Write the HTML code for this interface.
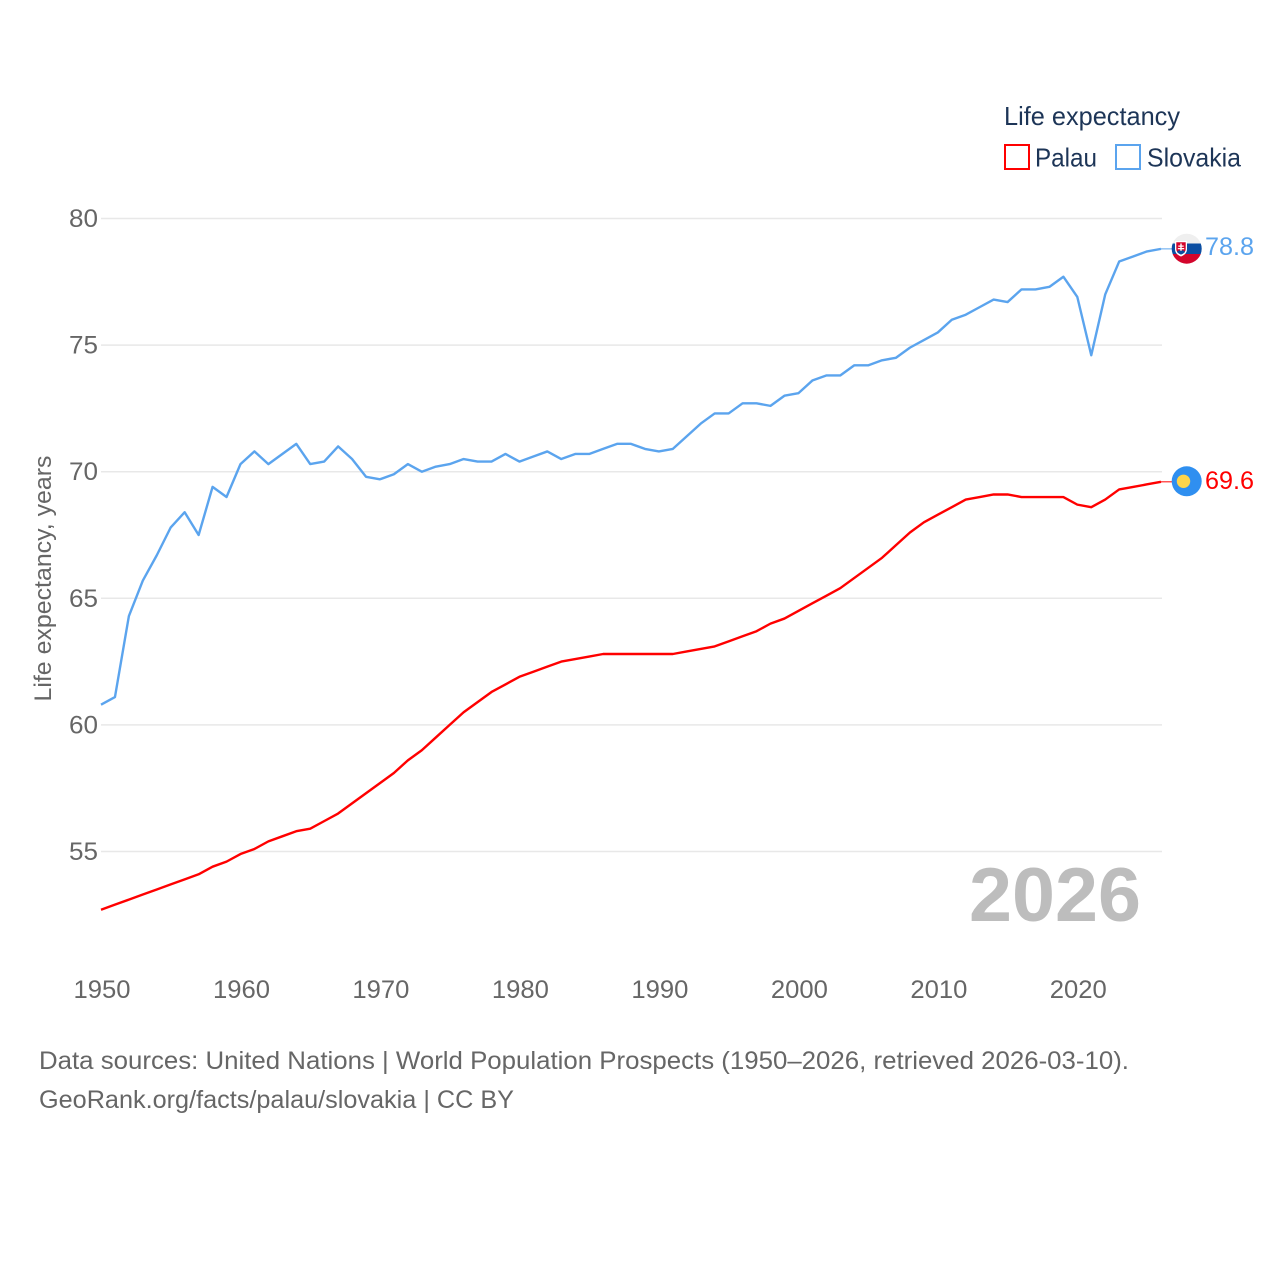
<!DOCTYPE html>
<html>
<head>
<meta charset="utf-8">
<style>
html,body{margin:0;padding:0;background:#fff;width:1280px;height:1280px;overflow:hidden}
svg{display:block}
text{font-family:"Liberation Sans",sans-serif}
</style>
</head>
<body>
<svg id="chart" width="1280" height="1280" viewBox="0 0 1280 1280" xmlns="http://www.w3.org/2000/svg">
  <g id="grid"></g>
  <g id="yticks"></g>
  <g id="xticks"></g>
  <text transform="translate(51,578.5) rotate(-90)" text-anchor="middle" font-size="24" fill="#666" textLength="246" lengthAdjust="spacingAndGlyphs">Life expectancy, years</text>
  <text x="969" y="921" font-size="76" font-weight="bold" fill="#bdbdbd" textLength="172" lengthAdjust="spacingAndGlyphs">2026</text>
  <g id="series"></g>
  <g id="endpoints"></g>

  <g>
    <circle cx="1186.700" cy="481.300" r="15" fill="#2f8ff0"/>
    <circle cx="1183.500" cy="481.300" r="6.700" fill="#ffd54a"/>
  </g>
  <g>
    <clipPath id="skclip"><circle cx="1186.700" cy="248.700" r="15"/></clipPath>
    <g clip-path="url(#skclip)">
      <rect x="1171" y="233" width="31" height="10.500" fill="#efefef"/>
      <rect x="1171" y="243.500" width="31" height="10.500" fill="#0b4ea2"/>
      <rect x="1171" y="254" width="31" height="11" fill="#d3052c"/>
      <path d="M1175 241h12v8c0 4-2.500 6-6 7.500-3.500-1.500-6-3.500-6-7.500z" fill="#fff"/>
      <path d="M1176.300 242.300h9.400v6.700c0 3-2.300 4.500-4.700 5.500-2.400-1-4.700-2.500-4.700-5.500z" fill="#d3052c"/>
      <path d="M1180.300 243.500h1.400v2h2v1.200h-2v1.300h2.500v1.200h-2.500v2.300h-1.400v-2.300h-2.500v-1.200h2.500v-1.300h-2v-1.200h2z" fill="#fff"/>
      <path d="M1177 252c1.500-2 2.500-2 4-1 1.500-1 2.500-1 4 1-1.500 1.500-2.500 2-4 2.500-1.500-.5-2.500-1-4-2.500z" fill="#0b4ea2"/>
    </g>
  </g>

  <g>
    <text x="1004" y="125" font-size="26" fill="#1d3557" textLength="176" lengthAdjust="spacingAndGlyphs">Life expectancy</text>
    <g>
      <rect x="1005" y="145" width="24" height="24" fill="#fff" stroke="#ff0000" stroke-width="2"/>
      <text x="1035" y="166.500" font-size="26" fill="#1d3557" textLength="62" lengthAdjust="spacingAndGlyphs">Palau</text>
    </g>
    <g>
      <rect x="1116" y="145" width="24" height="24" fill="#fff" stroke="#5ba4ee" stroke-width="2"/>
      <text x="1147" y="166.500" font-size="26" fill="#1d3557" textLength="94" lengthAdjust="spacingAndGlyphs">Slovakia</text>
    </g>
  </g>

  <text x="39" y="1069" font-size="25" fill="#666" textLength="1090" lengthAdjust="spacingAndGlyphs">Data sources: United Nations | World Population Prospects (1950–2026, retrieved 2026-03-10).</text>
  <text x="39" y="1108" font-size="25" fill="#666" textLength="475" lengthAdjust="spacingAndGlyphs">GeoRank.org/facts/palau/slovakia | CC BY</text>
</svg>
<script>
const startYear = 1950;
const yTickValues = [80, 75, 70, 65, 60, 55];
const xTickValues = [1950, 1960, 1970, 1980, 1990, 2000, 2010, 2020];
const palauValues = [52.7,52.9,53.1,53.3,53.5,53.7,53.9,54.1,54.4,54.6,54.9,55.1,55.4,55.6,55.8,55.9,56.2,56.5,56.9,57.3,57.7,58.1,58.6,59.0,59.5,60.0,60.5,60.9,61.3,61.6,61.9,62.1,62.3,62.5,62.6,62.7,62.8,62.8,62.8,62.8,62.8,62.8,62.9,63.0,63.1,63.3,63.5,63.7,64.0,64.2,64.5,64.8,65.1,65.4,65.8,66.2,66.6,67.1,67.6,68.0,68.3,68.6,68.9,69.0,69.1,69.1,69.0,69.0,69.0,69.0,68.7,68.6,68.9,69.3,69.4,69.5,69.6];
const slovakiaValues = [60.8,61.1,64.3,65.7,66.7,67.8,68.4,67.5,69.4,69.0,70.3,70.8,70.3,70.7,71.1,70.3,70.4,71.0,70.5,69.8,69.7,69.9,70.3,70.0,70.2,70.3,70.5,70.4,70.4,70.7,70.4,70.6,70.8,70.5,70.7,70.7,70.9,71.1,71.1,70.9,70.8,70.9,71.4,71.9,72.3,72.3,72.7,72.7,72.6,73.0,73.1,73.6,73.8,73.8,74.2,74.2,74.4,74.5,74.9,75.2,75.5,76.0,76.2,76.5,76.8,76.7,77.2,77.2,77.3,77.7,76.9,74.6,77.0,78.3,78.5,78.7,78.8];

const NS = 'http://www.w3.org/2000/svg';
function xScale(year) { return 101 + (year - 1950) * (1161 - 101) / 76; }
function yScale(v) { return 218.5 + (80 - v) * (851.5 - 218.5) / 25; }

const gridG = document.getElementById('grid');
const yG = document.getElementById('yticks');
const xG = document.getElementById('xticks');
const seriesG = document.getElementById('series');
const endG = document.getElementById('endpoints');

yTickValues.forEach(function (t) {
  const line = document.createElementNS(NS, 'line');
  
  
  line.setAttribute('x1', 101);
  line.setAttribute('x2', 1162);
  line.setAttribute('y1', yScale(t));
  line.setAttribute('y2', yScale(t));
  line.setAttribute('stroke', '#e8e8e8');
  line.setAttribute('stroke-width', 1.5);
  gridG.appendChild(line);
  const label = document.createElementNS(NS, 'text');
  
  
  label.setAttribute('x', 98);
  label.setAttribute('y', yScale(t) + 8.5);
  label.setAttribute('text-anchor', 'end');
  label.setAttribute('font-size', 25);
  label.setAttribute('fill', '#666');
  label.setAttribute('textLength', 29);
  label.setAttribute('lengthAdjust', 'spacingAndGlyphs');
  label.textContent = t;
  yG.appendChild(label);
});

xTickValues.forEach(function (t) {
  const label = document.createElementNS(NS, 'text');
  
  
  label.setAttribute('x', xScale(t) + 1);
  label.setAttribute('y', 998);
  label.setAttribute('text-anchor', 'middle');
  label.setAttribute('font-size', 25);
  label.setAttribute('fill', '#666');
  label.setAttribute('textLength', 57);
  label.setAttribute('lengthAdjust', 'spacingAndGlyphs');
  label.textContent = t;
  xG.appendChild(label);
});

function pathFor(values) {
  return values.map(function (v, i) {
    return (i ? 'L' : 'M') + xScale(startYear + i).toFixed(2) + ' ' + yScale(v).toFixed(2);
  }).join(' ');
}

const palauLine = document.createElementNS(NS, 'path');


palauLine.setAttribute('d', pathFor(palauValues));
palauLine.setAttribute('fill', 'none');
palauLine.setAttribute('stroke', '#ff0000');
palauLine.setAttribute('stroke-width', 2.4);
palauLine.setAttribute('stroke-linejoin', 'round');
seriesG.appendChild(palauLine);

const slovakiaLine = document.createElementNS(NS, 'path');


slovakiaLine.setAttribute('d', pathFor(slovakiaValues));
slovakiaLine.setAttribute('fill', 'none');
slovakiaLine.setAttribute('stroke', '#5ba4ee');
slovakiaLine.setAttribute('stroke-width', 2.4);
slovakiaLine.setAttribute('stroke-linejoin', 'round');
seriesG.appendChild(slovakiaLine);

const lastPalau = palauValues[palauValues.length - 1];
const lastSlovakia = slovakiaValues[slovakiaValues.length - 1];

const palauConn = document.createElementNS(NS, 'line');


palauConn.setAttribute('x1', 1161);
palauConn.setAttribute('x2', 1172);
palauConn.setAttribute('y1', yScale(lastPalau));
palauConn.setAttribute('y2', yScale(lastPalau));
palauConn.setAttribute('stroke', '#ff0000');
palauConn.setAttribute('stroke-width', 1);
endG.appendChild(palauConn);

const slovakiaConn = document.createElementNS(NS, 'line');


slovakiaConn.setAttribute('x1', 1161);
slovakiaConn.setAttribute('x2', 1172);
slovakiaConn.setAttribute('y1', yScale(lastSlovakia));
slovakiaConn.setAttribute('y2', yScale(lastSlovakia));
slovakiaConn.setAttribute('stroke', '#5ba4ee');
slovakiaConn.setAttribute('stroke-width', 1);
endG.appendChild(slovakiaConn);

const palauLabel = document.createElementNS(NS, 'text');


palauLabel.setAttribute('x', 1205);
palauLabel.setAttribute('y', yScale(lastPalau) + 7);
palauLabel.setAttribute('font-size', 25);
palauLabel.setAttribute('fill', '#ff0000');
palauLabel.setAttribute('textLength', 49);
palauLabel.setAttribute('lengthAdjust', 'spacingAndGlyphs');
palauLabel.textContent = lastPalau.toFixed(1);
endG.appendChild(palauLabel);

const slovakiaLabel = document.createElementNS(NS, 'text');


slovakiaLabel.setAttribute('x', 1205);
slovakiaLabel.setAttribute('y', yScale(lastSlovakia) + 6);
slovakiaLabel.setAttribute('font-size', 25);
slovakiaLabel.setAttribute('fill', '#5ba4ee');
slovakiaLabel.setAttribute('textLength', 49);
slovakiaLabel.setAttribute('lengthAdjust', 'spacingAndGlyphs');
slovakiaLabel.textContent = lastSlovakia.toFixed(1);
endG.appendChild(slovakiaLabel);
</script>
</body>
</html>
